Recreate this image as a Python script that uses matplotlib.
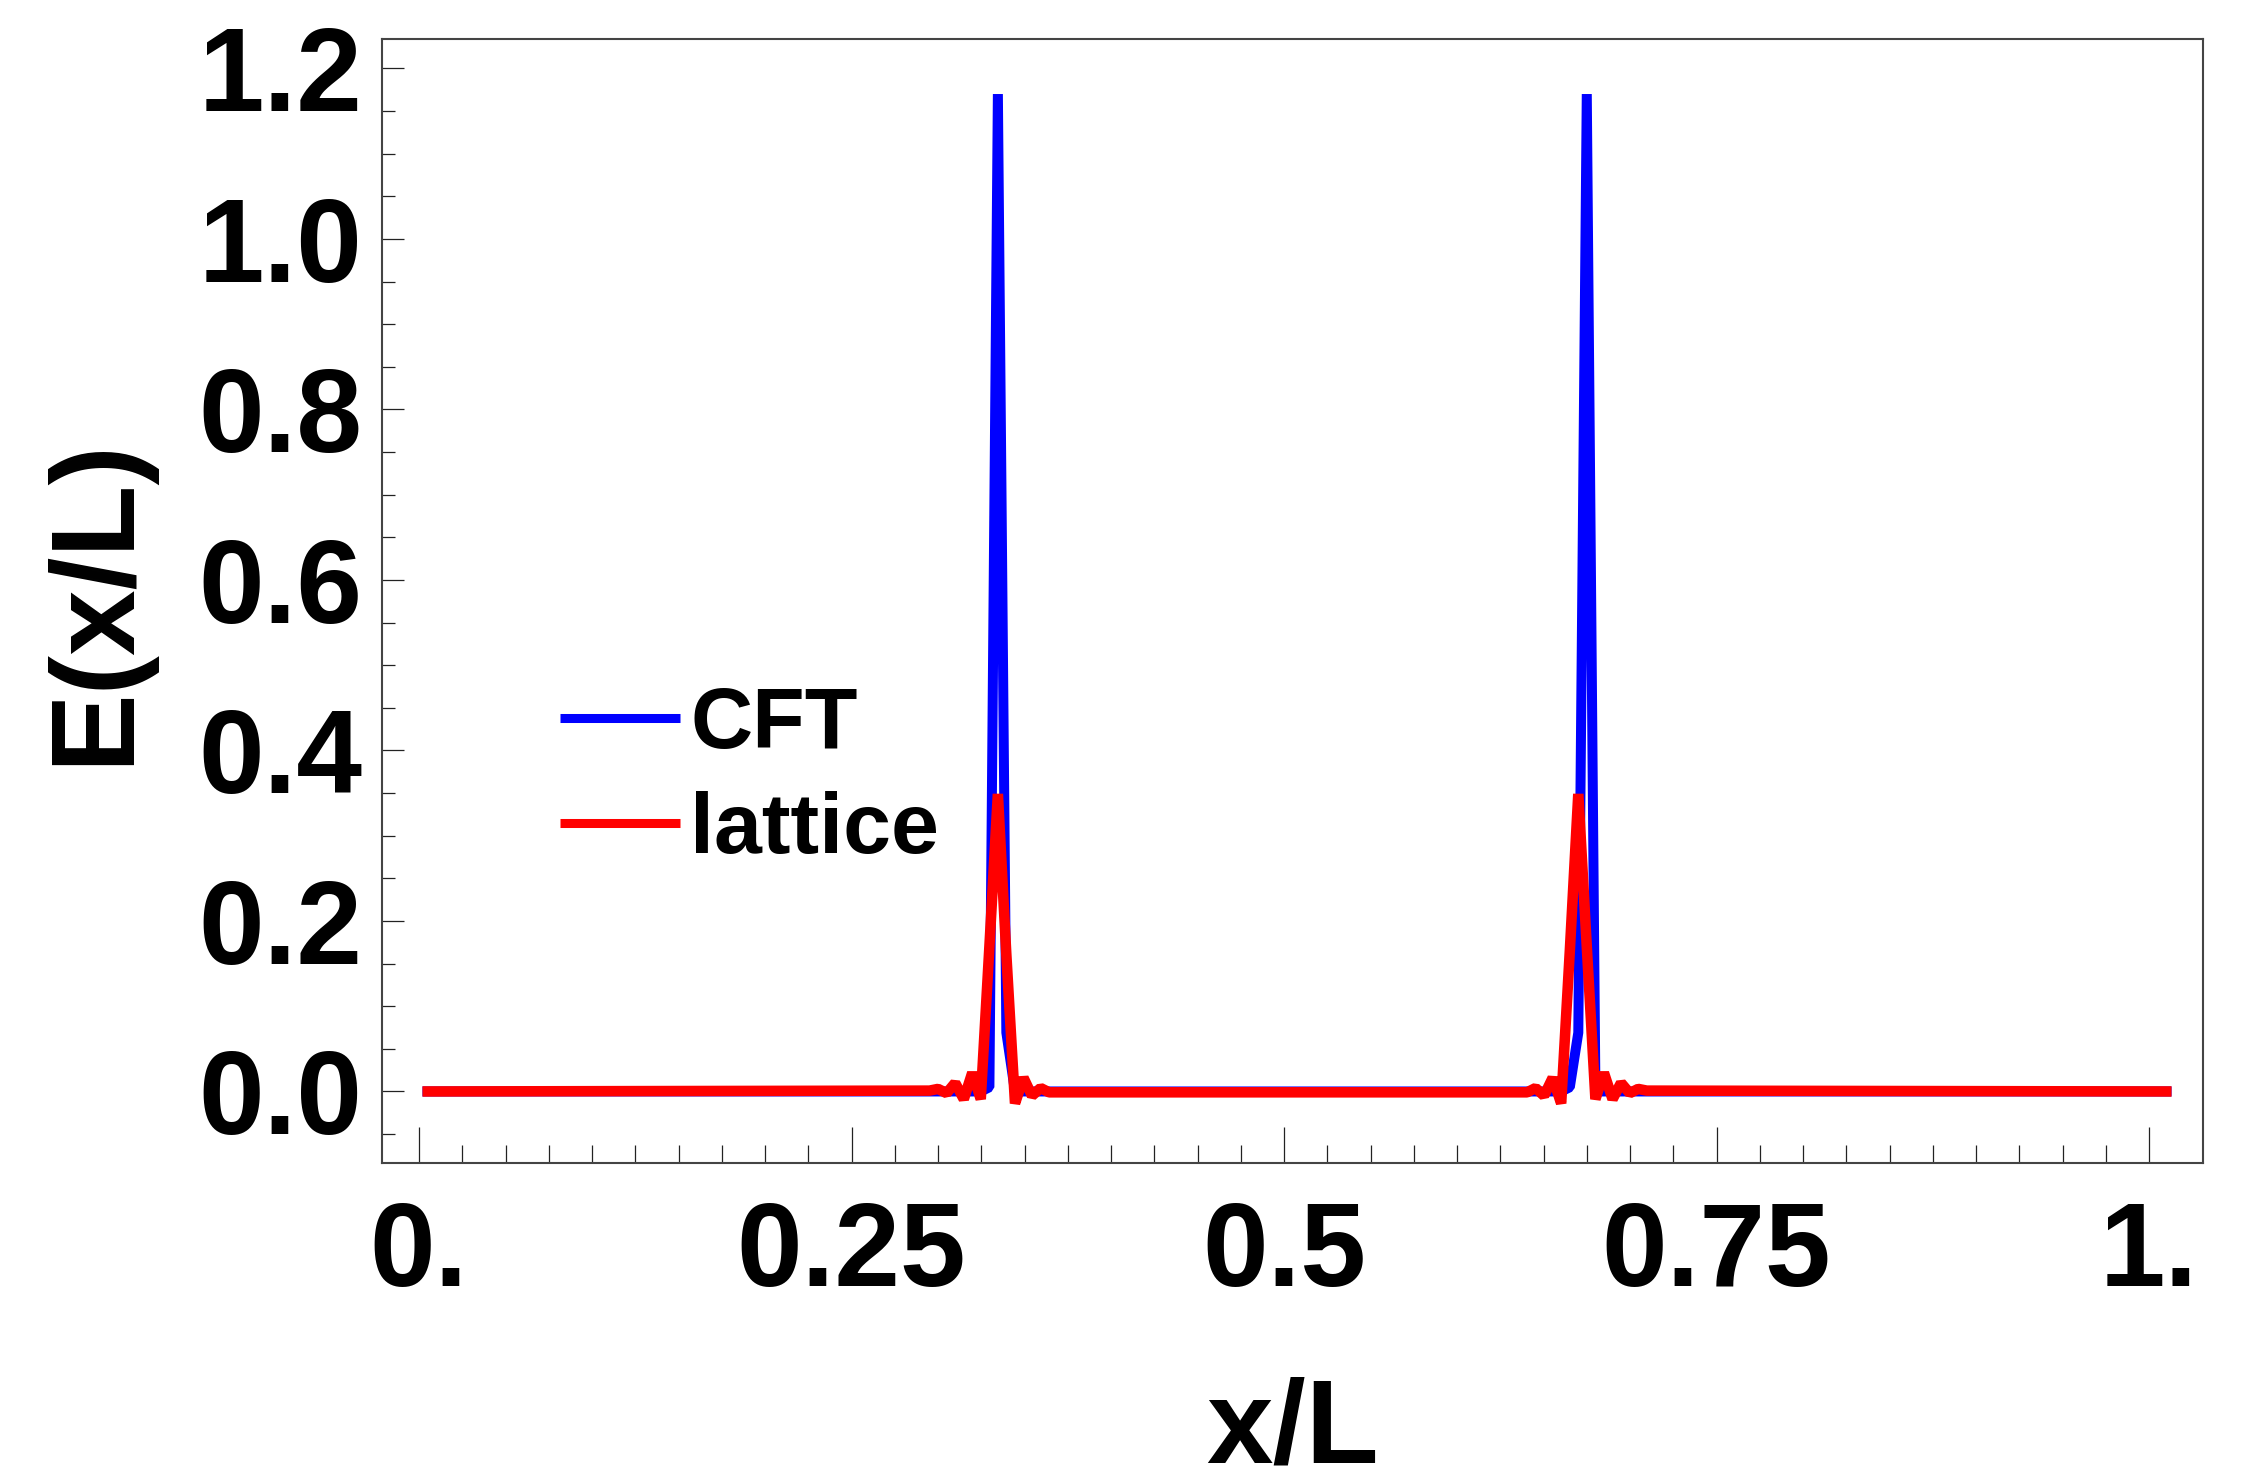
import matplotlib
matplotlib.use('Agg')
import matplotlib.pyplot as plt

plt.rcParams['font.family'] = ['Liberation Sans', 'DejaVu Sans']
plt.rcParams['font.weight'] = 'bold'

# CFT curve (x/L, E)
cft_x = [0.002, 0.3247, 0.3297, 0.3346, 0.3395, 0.3445,
         0.6602, 0.6652, 0.6701, 0.6750, 0.6800, 1.013]
cft_y = [0.0, 0.0, 0.005, 1.17, 0.069, 0.0,
         0.0, 0.005, 0.069, 1.17, 0.0, 0.0]

# lattice curve (x/L, E)
lat_x = [0.002, 0.2951, 0.3000, 0.3050, 0.3099, 0.3149, 0.3198, 0.3247,
         0.3297, 0.3346, 0.3395, 0.3445, 0.3494, 0.3543, 0.3593, 0.3642,
         0.6405, 0.6454, 0.6503, 0.6553, 0.6602, 0.6652, 0.6701, 0.6750,
         0.6800, 0.6849, 0.6899, 0.6948, 0.6998, 0.7047, 0.7097, 1.013]
lat_y = [0.0, 0.001, 0.003, -0.002, 0.010, -0.009, 0.022, -0.009,
         0.17, 0.349, 0.16, -0.014, 0.016, -0.005, 0.004, -0.001,
         -0.001, 0.004, -0.005, 0.016, -0.014, 0.165, 0.349, 0.17,
         -0.009, 0.022, -0.009, 0.010, -0.002, 0.003, 0.001, 0.0]

xticks = [0, 0.25, 0.5, 0.75, 1.0]
xticklabels = ['0.', '0.25', '0.5', '0.75', '1.']
yticks = [0.0, 0.2, 0.4, 0.6, 0.8, 1.0, 1.2]
yticklabels = ['0.0', '0.2', '0.4', '0.6', '0.8', '1.0', '1.2']
xminor = [i * 0.025 for i in range(41)]
yminor = [-0.05 + i * 0.05 for i in range(26)]

fig = plt.figure(figsize=(22.49, 14.67), dpi=100)
ax = fig.add_axes([0.16985, 0.20723, 0.8097, 0.76619])

ax.plot(cft_x, cft_y, color='#0000ff', lw=7.2, solid_capstyle='butt',
        solid_joinstyle='bevel', label='CFT')
ax.plot(lat_x, lat_y, color='#ff0000', lw=7.6, solid_capstyle='butt',
        solid_joinstyle='bevel', label='lattice')

ax.set_xlim(-0.0214, 1.0312)
ax.set_ylim(-0.0839, 1.2346)

ax.set_xticks(xticks, xticklabels)
ax.set_yticks(yticks, yticklabels)
ax.set_xticks(xminor, minor=True)
ax.set_yticks(yminor, minor=True)

for s in ax.spines.values():
    s.set_color('#444444')
    s.set_linewidth(1.5)

ax.tick_params(axis='x', which='major', direction='in', length=26, width=0.9,
               color='#222222', pad=27, labelsize=85)
ax.tick_params(axis='x', which='minor', direction='in', length=12.7, width=0.9,
               color='#222222')
ax.tick_params(axis='y', which='major', direction='in', length=15.6, width=0.9,
               color='#222222', pad=14, labelsize=85)
ax.tick_params(axis='y', which='minor', direction='in', length=9.4, width=0.9,
               color='#222222')

ax.set_xlabel('x/L', fontsize=86, fontweight='bold')
ax.set_ylabel('E(x/L)', fontsize=85, fontweight='bold')
ax.xaxis.set_label_coords(0.5, -0.19)
ax.yaxis.set_label_coords(-0.126, 0.5)

leg = ax.legend(loc='upper left', bbox_to_anchor=(0.0977, 0.424), frameon=False,
                fontsize=62, handlelength=1.395, handletextpad=0.12,
                labelspacing=0.29, borderpad=0, borderaxespad=0)
for h in leg.get_lines():
    h.set_linewidth(6.5)

fig.savefig('out.png', dpi=100)
